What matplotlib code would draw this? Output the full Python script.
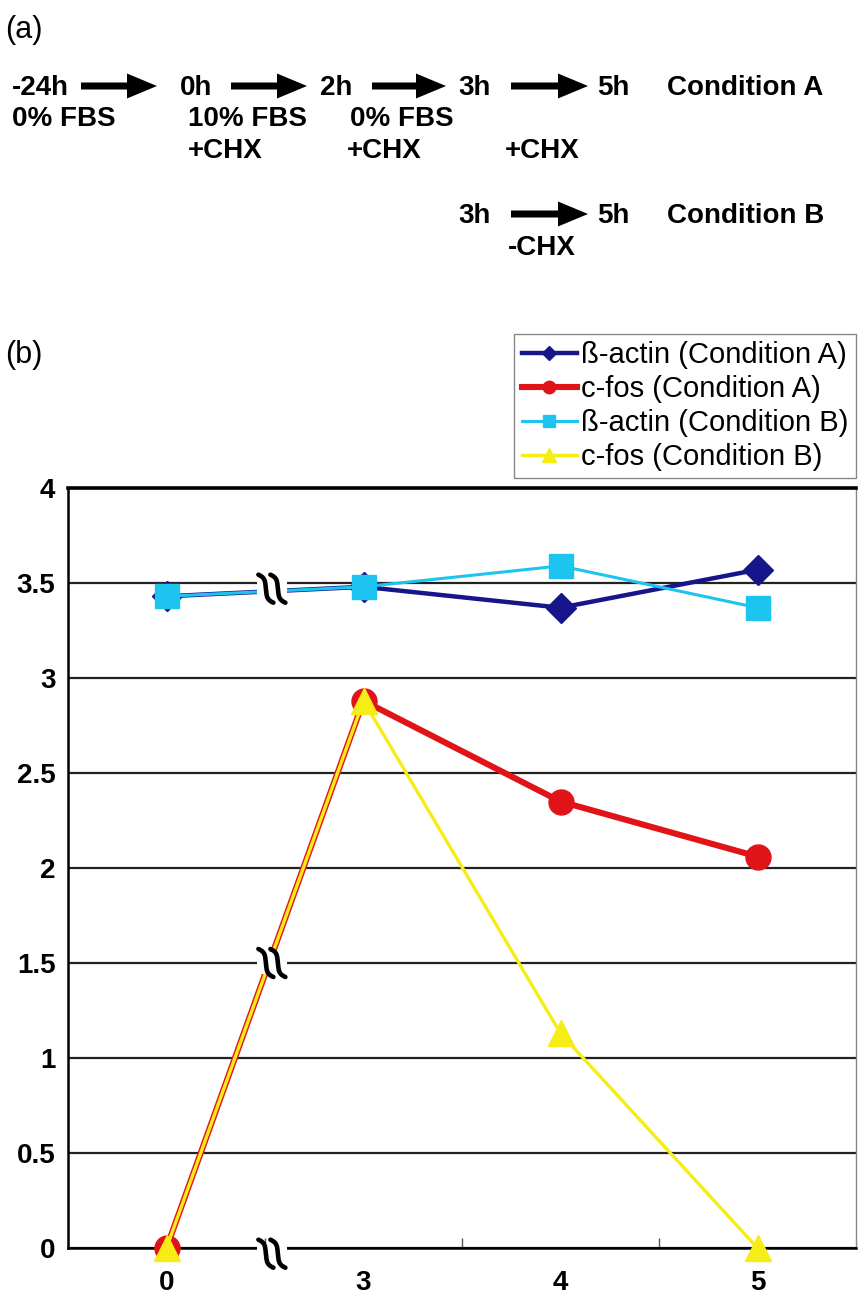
import matplotlib
matplotlib.use("Agg")
import matplotlib.pyplot as plt
from matplotlib.patches import FancyArrow, Rectangle
import numpy as np

plt.rcParams['font.family'] = ['Liberation Sans', 'DejaVu Sans']

# ---------------- data ----------------
times = ['0', '3', '4', '5']
actin_a = [3.43, 3.48, 3.37, 3.57]
cfos_a = [0.0, 2.88, 2.35, 2.06]
actin_b = [3.43, 3.48, 3.59, 3.37]
cfos_b = [0.0, 2.88, 1.13, 0.0]
yticks = [0, 0.5, 1, 1.5, 2, 2.5, 3, 3.5, 4]
ytick_labels = ['0', '0.5', '1', '1.5', '2', '2.5', '3', '3.5', '4']

W, H = 858, 1296
fig = plt.figure(figsize=(W / 100, H / 100), dpi=100)

# ---------------- panel (a): scheme, pixel coords ----------------
top = fig.add_axes([0, 0, 1, 1])
top.set_xlim(0, W)
top.set_ylim(H, 0)
top.axis('off')
top.set_zorder(10)

top.text(5, 30, '(a)', fontsize=22, va='center', ha='left')
top.text(5, 355, '(b)', fontsize=22, va='center', ha='left')

bold = dict(fontsize=20, fontweight='bold', va='center', ha='left')
row1 = [(12, '-24h'), (180, '0h'), (320, '2h'), (458, '3h'), (597, '5h'), (667, 'Condition A')]
for xx, s in row1:
    top.text(xx, 88, s, **bold)
row2 = [(12, '0% FBS'), (188, '10% FBS'), (350, '0% FBS')]
for xx, s in row2:
    top.text(xx, 119, s, **bold)
for xx in [188, 347, 505]:
    top.text(xx, 151, '+CHX', **bold)
rowb = [(458, '3h'), (597, '5h'), (667, 'Condition B')]
for xx, s in rowb:
    top.text(xx, 216, s, **bold)
top.text(508, 248, '-CHX', **bold)


def arrow(x0, x1, y):
    top.add_patch(FancyArrow(x0, y, x1 - x0, 0, width=7, head_width=25,
                             head_length=30, length_includes_head=True,
                             color='black', lw=0))


for x0, x1 in [(81, 157), (231, 307), (372, 446), (511, 588)]:
    arrow(x0, x1, 86)
arrow(511, 588, 214)

# ---------------- panel (b): chart ----------------
ax = fig.add_axes([68 / W, 1 - 1248 / H, (856 - 68) / W, (1248 - 488) / H])
x = np.arange(len(times))

ax.plot(x, actin_a, color='#16168a', lw=3.2, marker='D', ms=15,
        label='ß-actin (Condition A)', zorder=3, clip_on=False)
ax.plot(x, cfos_a, color='#e01418', lw=4.4, marker='o', ms=18,
        label='c-fos (Condition A)', zorder=3, clip_on=False)
ax.plot(x, actin_b, color='#1ec4f0', lw=2.2, marker='s', ms=17,
        label='ß-actin (Condition B)', zorder=4, clip_on=False)
ax.plot(x, cfos_b, color='#f6ec16', lw=2.4, marker='^', ms=19,
        label='c-fos (Condition B)', zorder=4, clip_on=False)

ax.set_xlim(-0.5, 3.5)
ax.set_ylim(0, 4)
ax.set_yticks(yticks)
ax.set_yticklabels(ytick_labels)
ax.set_xticks(x)
ax.set_xticklabels(times)
ax.set_xticks([0.5, 1.5, 2.5], minor=True)
ax.tick_params(axis='y', which='major', length=0, labelsize=20, pad=9)
ax.tick_params(axis='x', which='major', length=0, labelsize=20, pad=16)
ax.tick_params(axis='x', which='minor', direction='in', length=7, width=1, color='#555555')
for lab in ax.get_xticklabels() + ax.get_yticklabels():
    lab.set_fontweight('bold')
ax.grid(axis='y', color='#222222', lw=1.6)
ax.set_axisbelow(True)
for side in ['left', 'bottom']:
    ax.spines[side].set_linewidth(1.8)
ax.spines['top'].set_linewidth(2.6)
ax.spines['right'].set_linewidth(1.0)
ax.spines['right'].set_color('#888888')

# axis break marks (hooked strokes), drawn in pixel space on the overlay
u = np.linspace(-1, 1, 60)
bx = 6 * u ** 5 + 1.5 * u
by = 14 * u
for yb in [3.47, 1.5, -0.03]:
    cx, cy = ax.transData.transform((0.535, yb))
    cy = H - cy
    top.add_patch(Rectangle((cx - 15, cy - 11), 30, 22, color='white', lw=0))
    for dx in [-6, 6]:
        top.plot(cx + dx + bx, cy + by, color='black', lw=3.3, solid_capstyle='round')

leg = ax.legend(loc='upper right', bbox_to_anchor=(856 / W, 1 - 334 / H),
                bbox_transform=fig.transFigure, fontsize=21, markerscale=0.5,
                handlelength=1.9, handletextpad=0.15, labelspacing=0.2,
                borderpad=0.25, borderaxespad=0, fancybox=False, framealpha=1)
leg.get_frame().set_edgecolor('#888888')
leg.get_frame().set_linewidth(1.0)

fig.savefig('out.png', dpi=100)
